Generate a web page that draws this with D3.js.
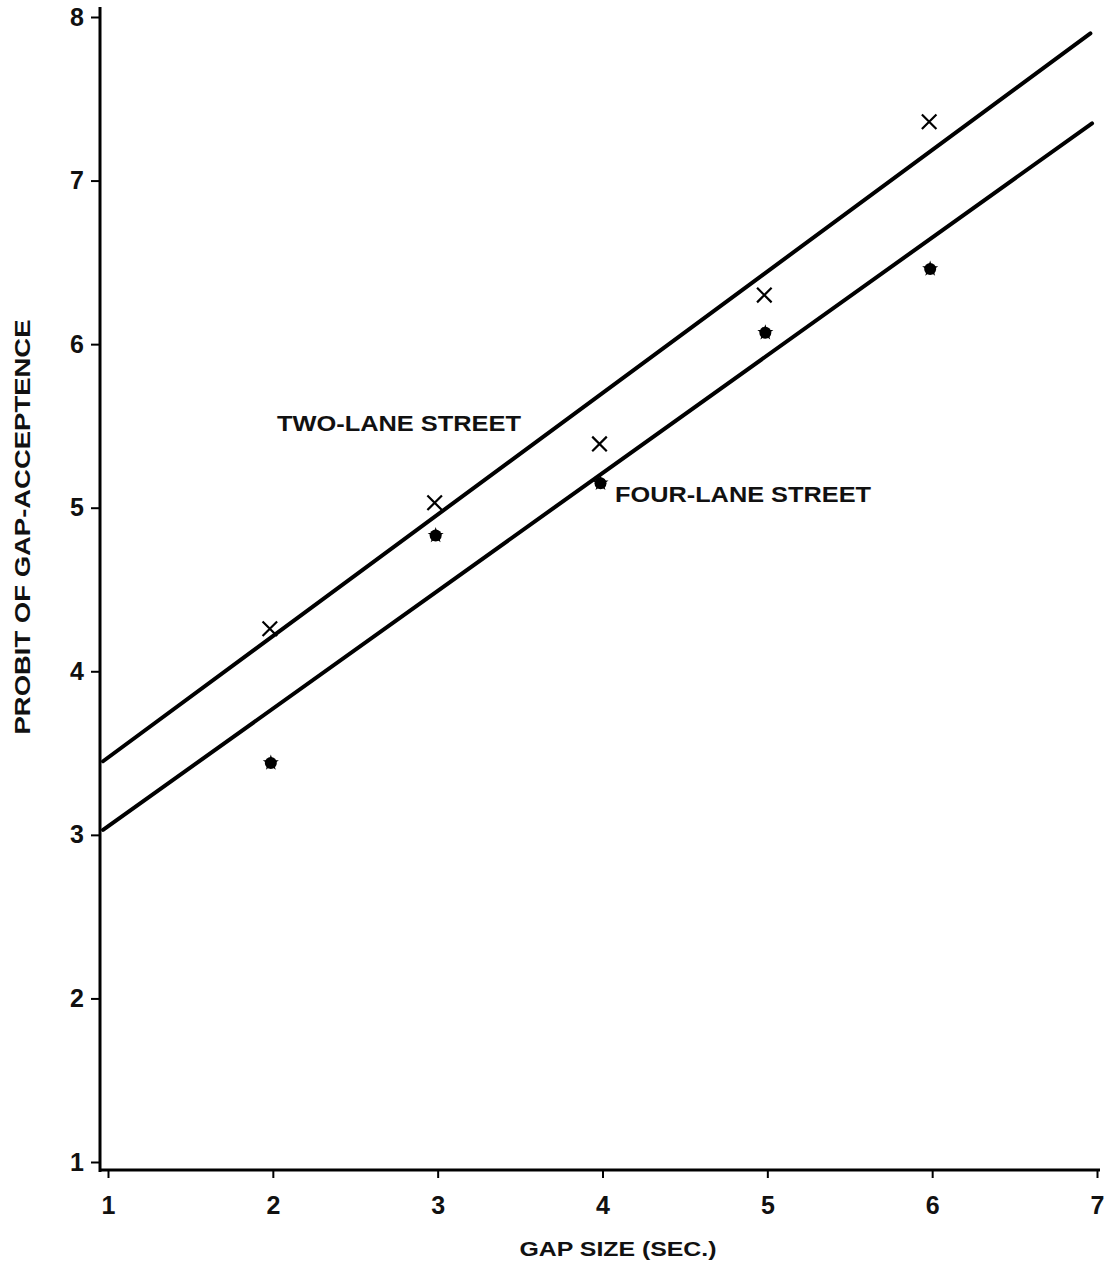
<!DOCTYPE html>
<html>
<head>
<meta charset="utf-8">
<script src="https://cdn.jsdelivr.net/npm/d3@7"></script>
<style>
  body { margin: 0; background: #fff; }
  svg text { font-family: "Liberation Sans", Arial, sans-serif; fill: #111; font-weight: bold; }
</style>
</head>
<body>
<div id="chart"></div>
<script>
const gapSizes = [2, 3, 4, 5, 6];
const twoLane = [4.26, 5.03, 5.39, 6.3, 7.36];
const fourLane = [3.44, 4.83, 5.15, 6.07, 6.46];
// fitted lines, [x, probit] at both ends
const twoLaneFit = [[0.97, 3.45], [6.96, 7.9]];
const fourLaneFit = [[0.97, 3.03], [6.97, 7.35]];
const xTicks = [1, 2, 3, 4, 5, 6, 7];
const yTicks = [1, 2, 3, 4, 5, 6, 7, 8];

const w = 1120;
const h = 1265;

const svg = d3.select("#chart").append("svg").attr("width", w).attr("height", h);

const xScale = d3.scaleLinear().domain([1, 7]).range([108, 1097]);
const yScale = d3.scaleLinear().domain([1, 8]).range([1162, 17]);

const axisX = 100;
const axisY = 1170;

// axis lines
svg.append("line")
  .attr("x1", axisX).attr("x2", axisX).attr("y1", 7).attr("y2", axisY + 2)
  .attr("stroke", "#000").attr("stroke-width", 3);
svg.append("line")
  .attr("x1", axisX - 1).attr("x2", 1100).attr("y1", axisY).attr("y2", axisY)
  .attr("stroke", "#000").attr("stroke-width", 3);

const xAxis = d3.axisBottom(xScale).tickValues(xTicks).tickFormat(d3.format("d"))
  .tickSize(8).tickPadding(18).tickSizeOuter(0);
const yAxis = d3.axisLeft(yScale).tickValues(yTicks).tickFormat(d3.format("d"))
  .tickSize(9).tickPadding(7).tickSizeOuter(0);

const gx = svg.append("g").attr("transform", "translate(0," + axisY + ")").call(xAxis);
const gy = svg.append("g").attr("transform", "translate(" + axisX + ",0)").call(yAxis);

[gx, gy].forEach((g) => {
  g.select(".domain").remove();
  g.attr("font-size", null).attr("font-family", null);
  g.selectAll(".tick line").attr("stroke", "#000").attr("stroke-width", 2);
  g.selectAll(".tick text").style("font-size", "25px").attr("fill", "#111");
});

// fitted lines
const line = d3.line().x((d) => xScale(d[0])).y((d) => yScale(d[1]));
[twoLaneFit, fourLaneFit].forEach((pts) => {
  svg.append("path")
    .attr("d", line(pts))
    .attr("fill", "none")
    .attr("stroke", "#000")
    .attr("stroke-width", 4)
    .attr("stroke-linecap", "round");
});

// two-lane points: crosses
svg.selectAll(".cross")
  .data(gapSizes)
  .enter()
  .append("path")
  .attr("class", "cross")
  .attr("d", d3.symbol(d3.symbolTimes, 140))
  .attr("transform", (d, i) => "translate(" + (xScale(d) - 3) + "," + yScale(twoLane[i]) + ")")
  .attr("fill", "none")
  .attr("stroke", "#000")
  .attr("stroke-width", 2.2);

// four-lane points: filled blobs
svg.selectAll(".dot")
  .data(gapSizes)
  .enter()
  .append("circle")
  .attr("class", "dot")
  .attr("cx", (d) => xScale(d) - 2)
  .attr("cy", (d, i) => yScale(fourLane[i]))
  .attr("r", 6)
  .attr("fill", "#000");
svg.selectAll(".star")
  .data(gapSizes)
  .enter()
  .append("path")
  .attr("class", "star")
  .attr("d", d3.symbol(d3.symbolStar, 80))
  .attr("transform", (d, i) => "translate(" + (xScale(d) - 2) + "," + yScale(fourLane[i]) + ")")
  .attr("fill", "#000");

// labels
svg.append("text")
  .attr("x", 277).attr("y", 431)
  .style("font-size", "22px")
  .attr("textLength", 244)
  .attr("lengthAdjust", "spacingAndGlyphs")
  .text("TWO-LANE STREET");

svg.append("text")
  .attr("x", 615).attr("y", 502)
  .style("font-size", "22px")
  .attr("textLength", 256)
  .attr("lengthAdjust", "spacingAndGlyphs")
  .text("FOUR-LANE STREET");

svg.append("text")
  .attr("transform", "translate(30,527) rotate(-90)")
  .attr("text-anchor", "middle")
  .style("font-size", "22px")
  .attr("textLength", 415)
  .attr("lengthAdjust", "spacingAndGlyphs")
  .text("PROBIT OF GAP-ACCEPTENCE");

svg.append("text")
  .attr("x", 618).attr("y", 1256)
  .attr("text-anchor", "middle")
  .style("font-size", "21px")
  .attr("textLength", 197)
  .attr("lengthAdjust", "spacingAndGlyphs")
  .text("GAP SIZE (SEC.)");
</script>
</body>
</html>
